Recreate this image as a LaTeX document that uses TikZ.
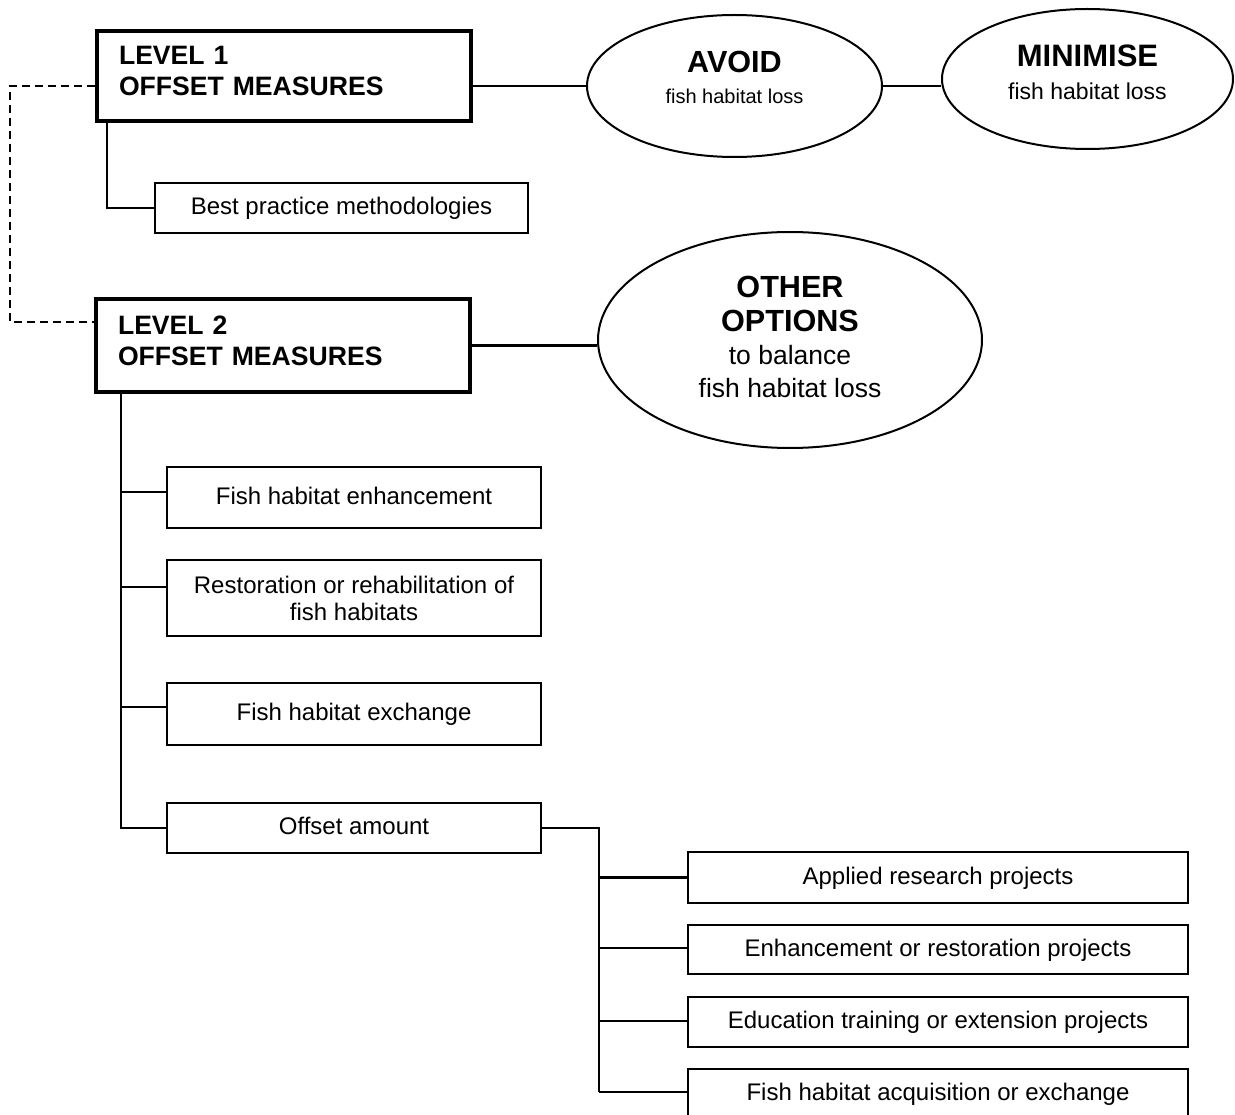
\documentclass[tikz,border=0pt]{standalone}
\usepackage{fontspec}
\setmainfont{Liberation Sans}
\usetikzlibrary{shapes.geometric}
\tikzset{
  every node/.style={inner sep=0pt},
  lvlbox/.style={draw, line width=4pt, minimum width=374pt, text width=330pt, align=left,
    font=\fontsize{26.6}{31}\selectfont\bfseries},
  itembox/.style={draw, line width=2.3pt, minimum height=50pt, align=center,
    font=\fontsize{24}{27}\selectfont},
  oneline/.style={text height=17pt, text depth=4pt},
  oval/.style={draw, ellipse, line width=2pt, align=center},
  conn/.style={line width=2.3pt},
  dashconn/.style={line width=1.7pt, dash pattern=on 8pt off 5pt},
}
\begin{document}
\begin{tikzpicture}[x=1pt,y=-1pt]
\fill[white] (0,0) rectangle (1235,1115);
\useasboundingbox (0,0) rectangle (1235,1115);

% level 1
\node[lvlbox, minimum height=90pt] (l1) at (284,76) {LEVEL 1\\OFFSET MEASURES\rule[-10pt]{0pt}{10pt}};
\node[oval, minimum width=295pt, minimum height=142pt, font=\fontsize{20}{31}\selectfont] (avoid) at (734.5,86)
  {{\fontsize{30.6}{31}\selectfont\bfseries AVOID}\\fish habitat loss\rule[-17pt]{0pt}{17pt}};
\node[oval, minimum width=291pt, minimum height=140pt, font=\fontsize{23}{33}\selectfont] (mini) at (1087.5,79)
  {{\fontsize{31}{33}\selectfont\bfseries MINIMISE}\\fish habitat loss\rule[-13pt]{0pt}{13pt}};
\node[itembox, oneline, minimum width=373pt] (bp) at (341.5,208) {Best practice methodologies};

% level 2
\node[lvlbox, minimum height=93pt] (l2) at (283,345.5) {LEVEL 2\\OFFSET MEASURES\rule[-9pt]{0pt}{9pt}};
\node[oval, minimum width=384pt, minimum height=216pt, font=\fontsize{26.5}{33.3}\selectfont] (oo) at (790,340)
  {{\fontsize{30.6}{33.3}\selectfont\bfseries OTHER}\\{\fontsize{30.6}{33.3}\selectfont\bfseries OPTIONS}\\to balance\\fish habitat loss\rule[-6pt]{0pt}{6pt}};

\node[itembox, oneline, minimum width=374pt, minimum height=61pt] (fhe) at (354,497.5) {Fish habitat enhancement};
\node[itembox, minimum width=374pt, minimum height=76pt] (rest) at (354,598) {Restoration or rehabilitation of\\fish habitats};
\node[itembox, oneline, minimum width=374pt, minimum height=62pt] (fhx) at (354,714) {Fish habitat exchange};
\node[itembox, oneline, minimum width=374pt, minimum height=50pt] (oa) at (354,828) {Offset amount};

\node[itembox, oneline, minimum width=500pt, minimum height=51pt] (arp) at (938,877.5) {Applied research projects};
\node[itembox, oneline, minimum width=500pt, minimum height=49pt] (erp) at (938,949.5) {Enhancement or restoration projects};
\node[itembox, oneline, minimum width=500pt, minimum height=50pt] (etp) at (938,1022) {Education training or extension projects};
\node[itembox, oneline, minimum width=500pt, minimum height=50pt] (fha) at (938,1094) {Fish habitat acquisition or exchange};

% connectors
\draw[conn] (l1.east |- avoid.west) -- (avoid.west);
\draw[conn] (avoid.east) -- (avoid.east -| mini.west);
\draw[conn] (l2.east) -- (l2.east -| oo.west);

\coordinate (d1) at (10,86);
\coordinate (d2) at (10,322);
\draw[dashconn] (l1.west |- avoid.west) -- (d1) -- (d2) -- (d2 -| l2.west);

\coordinate (t1) at (107,0);
\draw[conn] (t1 |- l1.south) |- (bp.west);

\coordinate (t2) at (121,0);
\draw[conn] (t2 |- l2.south) |- (oa.west);
\draw[conn] (t2 |- fhe.west) ++(0,-5.5) -- ([yshift=5.5pt]fhe.west);
\draw[conn] (t2 |- rest.west) ++(0,-11) -- ([yshift=11pt]rest.west);
\draw[conn] (t2 |- fhx.west) ++(0,-7) -- ([yshift=7pt]fhx.west);

\coordinate (t3) at (599,0);
\draw[conn] (oa.east) -| ([yshift=2pt]t3 |- fha.west);
\draw[conn] (t3 |- arp.west) -- (arp.west);
\draw[conn] (t3 |- erp.west) ++(0,-1.5) -- ([yshift=1.5pt]erp.west);
\draw[conn] (t3 |- etp.west) ++(0,-1) -- ([yshift=1pt]etp.west);
\draw[conn] ([yshift=2pt]t3 |- fha.west) -- ([yshift=2pt]fha.west);
\end{tikzpicture}
\end{document}
